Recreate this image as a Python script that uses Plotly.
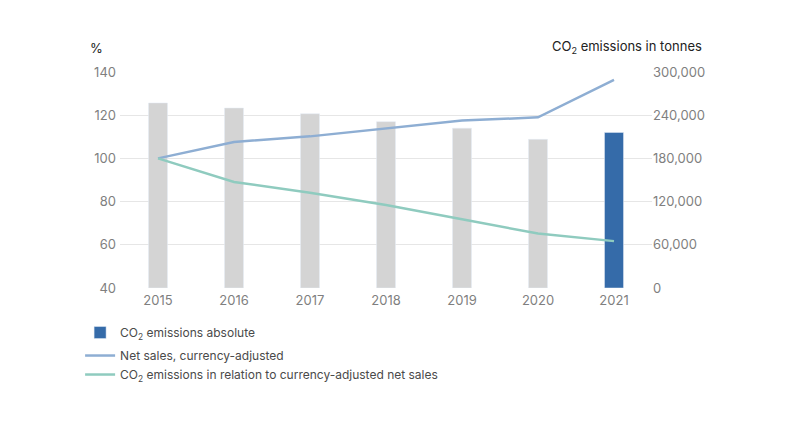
import plotly.graph_objects as go

years = ["2015", "2016", "2017", "2018", "2019", "2020", "2021"]
co2_absolute = [257000, 250000, 242000, 231000, 222000, 206500, 216000]
net_sales_index = [100, 107.6, 110.2, 113.8, 117.5, 119.0, 136.3]
co2_relative_index = [100, 89.1, 84.1, 78.4, 71.8, 65.2, 61.7]

left_ticks = [40, 60, 80, 100, 120, 140]
right_ticks = [0, 60000, 120000, 180000, 240000, 300000]

GRAY_BAR = "#d4d4d4"
BLUE_BAR = "#356ba9"
NET_LINE = "#8eaed3"
CO2_LINE = "#8fcbbf"
TICK = "#7f7f7f"

fig = go.Figure()

# bars sit on the base (right) axis so the lines on the overlay axis draw above them
fig.add_trace(go.Bar(
    x=years[:-1], y=co2_absolute[:-1],
    marker=dict(color=GRAY_BAR), width=0.25,
    showlegend=False, yaxis="y", legendgroup="a",
))
fig.add_trace(go.Bar(
    x=years[-1:], y=co2_absolute[-1:],
    marker=dict(color=BLUE_BAR), width=0.25,
    name="CO<sub>2</sub> emissions absolute", yaxis="y", legendgroup="a",
))
fig.add_trace(go.Scatter(
    x=years, y=net_sales_index, mode="lines",
    line=dict(color=NET_LINE, width=2.5),
    name="Net sales, currency-adjusted", yaxis="y2", legendgroup="b",
))
fig.add_trace(go.Scatter(
    x=years, y=co2_relative_index, mode="lines",
    line=dict(color=CO2_LINE, width=2.5),
    name="CO<sub>2</sub> emissions in relation to currency-adjusted net sales",
    yaxis="y2", legendgroup="b",
))

# page body adds 8px, so the figure is a bit smaller than the window
fig.update_layout(
    width=782, height=436,
    margin=dict(l=112, r=138, t=64, b=156),
    paper_bgcolor="white", plot_bgcolor="white",
    font=dict(family="Inter, Roboto, sans-serif", size=13, color=TICK),
    barmode="overlay",
    xaxis=dict(
        type="category", showgrid=False, zeroline=False, showline=False,
        ticks="", ticklabelstandoff=3, tickfont=dict(size=13, color=TICK),
    ),
    yaxis=dict(
        side="right", range=[0, 300000], tickvals=right_ticks,
        tickformat=",d", showgrid=True, gridcolor="#e6e6e6", gridwidth=1,
        zeroline=False, showline=False, ticks="",
        tickfont=dict(size=13, color=TICK),
    ),
    yaxis2=dict(
        side="left", overlaying="y", range=[40, 140], tickvals=left_ticks,
        showgrid=False, zeroline=False, showline=False, ticks="",
        ticklabelstandoff=3, tickfont=dict(size=13, color=TICK),
    ),
    legend=dict(
        x=-0.075, y=-0.139, xanchor="left", yanchor="top",
        traceorder="grouped", tracegroupgap=4,
        font=dict(size=12, color="#4a4a4a"), itemwidth=30,
        bgcolor="rgba(0,0,0,0)",
    ),
    showlegend=True,
    annotations=[
        dict(text="%", xref="paper", yref="paper", x=-0.06, y=1.065,
             xanchor="left", yanchor="bottom", showarrow=False,
             font=dict(size=13, color="#222222")),
        dict(text="CO<sub>2</sub> emissions in tonnes", xref="paper", yref="paper",
             x=1.097, y=1.065, xanchor="right", yanchor="bottom", showarrow=False,
             font=dict(size=13, color="#222222")),
    ],
)

fig.write_html("out.html")
